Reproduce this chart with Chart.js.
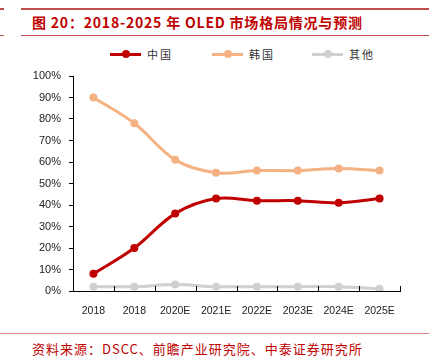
<!DOCTYPE html>
<html>
<head>
<meta charset="utf-8">
<script src="https://cdn.jsdelivr.net/npm/chart.js@4"></script>
<style>
  body { margin: 0; background: #fff; width: 429px; height: 359px; position: relative; overflow: hidden; font-family: "Noto Sans CJK SC", sans-serif; }
  .rule { position: absolute; background: #c0504d; }
  #title { position: absolute; left: 32px; top: 12px; font-size: 14px; font-weight: bold; color: #c00000; white-space: nowrap; letter-spacing: 0.8px; }
  #source { position: absolute; left: 32px; top: 339px; font-size: 13px; color: #c00000; white-space: nowrap; letter-spacing: 1px; }
  #legend { position: absolute; top: 45px; left: 0; width: 429px; height: 18px; }
  .item { position: absolute; top: 0; height: 18px; }
  .item .ln { position: absolute; top: 8px; left: 0; width: 31px; height: 3px; }
  .item .dt { position: absolute; top: 5px; left: 12px; width: 8px; height: 8px; border-radius: 50%; }
  .item .tx { position: absolute; left: 37px; top: 0; font-size: 11px; line-height: 18px; letter-spacing: 2px; color: #333; white-space: nowrap; }
  #wrap { position: absolute; left: 0; top: 60px; width: 429px; height: 270px; }
</style>
</head>
<body>
<div class="rule" style="left:0;top:8px;width:4px;height:2px"></div>
<div class="rule" style="left:21px;top:8px;width:408px;height:2px"></div>
<div id="title">图 20：2018-2025 年 OLED 市场格局情况与预测</div>
<div class="rule" style="left:0;top:35px;width:4px;height:1px"></div>
<div class="rule" style="left:21px;top:35px;width:408px;height:1px"></div>
<div id="legend"></div>
<div id="wrap"><canvas id="chart"></canvas></div>
<div class="rule" style="left:0;top:333px;width:429px;height:1px;background:#e08080"></div>
<div id="source">资料来源：DSCC、前瞻产业研究院、中泰证券研究所</div>
<script>
const categories = ['2018', '2018', '2020E', '2021E', '2022E', '2023E', '2024E', '2025E'];
const china = [8, 20, 36, 43, 42, 42, 41, 43];
const korea = [90, 78, 61, 55, 56, 56, 57, 56];
const others = [2, 2, 3, 2, 2, 2, 2, 1];
const seriesNames = ['中国', '韩国', '其他'];
const seriesColors = ['#c00000', '#f4b183', '#d0d0d0'];
const legendX = [110, 212, 312];

// html legend
const legend = document.getElementById('legend');
seriesNames.forEach(function(name, i) {
    const div = document.createElement('div');
    div.className = 'item';
    div.style.left = legendX[i] + 'px';
    div.innerHTML = '<div class="ln" style="background:' + seriesColors[i] + '"></div>' +
        '<div class="dt" style="background:' + seriesColors[i] + '"></div>' +
        '<div class="tx">' + name + '</div>';
    legend.appendChild(div);
});

function makeSet(label, data, color) {
    return {
        label: label,
        data: data,
        borderColor: color,
        backgroundColor: color,
        borderWidth: 3,
        pointRadius: 4,
        pointBackgroundColor: color,
        pointBorderWidth: 0,
        tension: 0.35
    };
}

// small inward ticks on the category axis
const innerTicks = {
    id: 'innerTicks',
    afterDraw(chart) {
        const x = chart.scales.x;
        const ctx = chart.ctx;
        const step = (x.right - x.left) / categories.length;
        ctx.save();
        ctx.strokeStyle = '#000';
        ctx.lineWidth = 1;
        for (let i = 1; i <= categories.length; i++) {
            const px = Math.round(x.left + i * step) + 0.5;
            ctx.beginPath();
            ctx.moveTo(px, x.top);
            ctx.lineTo(px, x.top - 5);
            ctx.stroke();
        }
        ctx.restore();
    }
};

new Chart(document.getElementById('chart').getContext('2d'), {
    type: 'line',
    data: {
        labels: categories,
        datasets: [
            makeSet(seriesNames[2], others, seriesColors[2]),
            makeSet(seriesNames[1], korea, seriesColors[1]),
            makeSet(seriesNames[0], china, seriesColors[0])
        ]
    },
    options: {
        responsive: true,
        maintainAspectRatio: false,
        animation: false,
        layout: { padding: { top: 16, right: 29, left: 0, bottom: 0 } },
        plugins: { legend: { display: false }, tooltip: { enabled: false } },
        scales: {
            x: {
                offset: true,
                grid: { display: false },
                border: { display: true, color: '#000', width: 1 },
                ticks: { color: '#222', font: { family: 'Liberation Sans', size: 10.5 }, padding: 6, maxRotation: 0 },
                afterFit(scale) { scale.height = 39; }
            },
            y: {
                min: 0,
                max: 100,
                ticks: {
                    stepSize: 10,
                    color: '#222',
                    padding: 8,
                    font: { family: 'Liberation Sans', size: 11 },
                    callback: function(v) { return v + '%'; }
                },
                grid: { drawOnChartArea: false, drawTicks: true, tickLength: 4, color: '#000' },
                border: { display: true, color: '#000', width: 1 },
                afterFit(scale) { scale.width = 73; }
            }
        }
    },
    plugins: [innerTicks]
});
</script>
</body>
</html>
